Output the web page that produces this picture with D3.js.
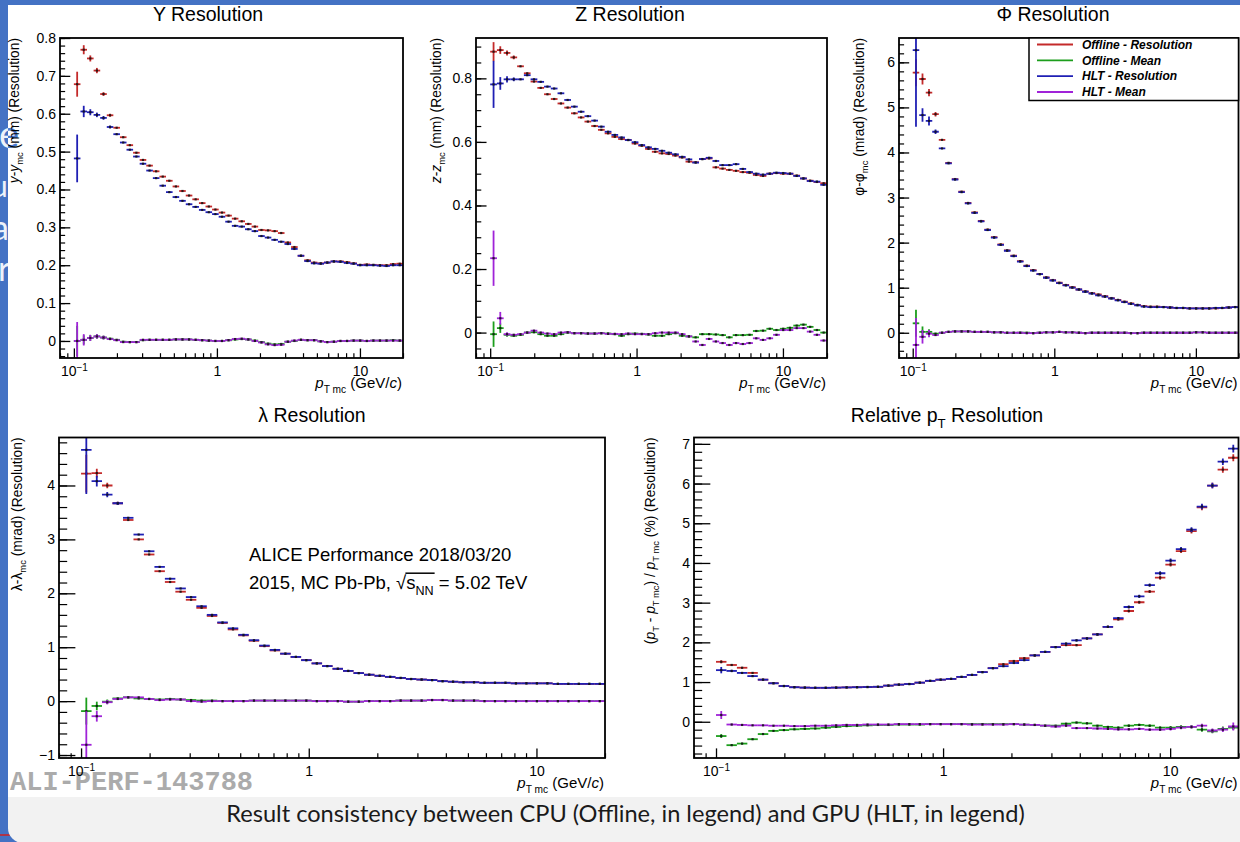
<!DOCTYPE html>
<html><head><meta charset="utf-8">
<script src="https://cdn.jsdelivr.net/npm/d3@7"></script>
<style>
html,body{margin:0;padding:0;background:#4472c4;overflow:hidden;}
svg{display:block;}
text{white-space:pre;}
</style></head><body>
<svg id="c" width="1240" height="842"></svg>
<script>
// ---------------- DATA ----------------
const ptBinEdges = [0.1,0.1112,0.1236,0.1374,0.1528,0.1699,0.1888,0.2100,0.2334,0.2595,0.2885,0.3208,0.3566,0.3965,0.4408,0.4901,0.5449,0.6058,0.6735,0.7488,0.8325,0.9255,1.0290,1.1440,1.2719,1.4141,1.5722,1.7480,1.9434,2.1606,2.4022,2.6708,2.9693,3.3013,3.6704,4.0807,4.5369,5.0441,5.6080,6.2350,6.9320,7.7070,8.5686,9.5266,10.592,11.776,13.092,14.556,16.183,17.993,20.0];
const seriesNames = ["Offline - Resolution","Offline - Mean","HLT - Resolution","HLT - Mean"];

// Y resolution (mm)
const yResOffline = [0.678,0.769,0.746,0.714,0.652,0.596,0.563,0.538,0.517,0.497, 0.478,0.463,0.448,0.434,0.423,0.408,0.396,0.384,0.374,0.364, 0.355,0.347,0.339,0.331,0.323,0.316,0.309,0.302,0.293,0.292, 0.290,0.285,0.260,0.248,0.225,0.213,0.207,0.205,0.207,0.210, 0.210,0.208,0.205,0.201,0.202,0.201,0.200,0.200,0.203,0.204];
const yResHLT = [0.482,0.606,0.604,0.597,0.589,0.565,0.546,0.524,0.505,0.487, 0.468,0.450,0.430,0.410,0.393,0.380,0.370,0.361,0.354,0.346, 0.340,0.335,0.328,0.315,0.304,0.302,0.295,0.290,0.277,0.273, 0.267,0.262,0.256,0.243,0.225,0.211,0.205,0.204,0.207,0.210, 0.209,0.206,0.204,0.200,0.200,0.200,0.199,0.198,0.200,0.200];
const yMeanOffline = [0.000,0.003,0.008,0.012,0.009,0.006,0.003,-0.002,-0.003,-0.003, 0.002,0.003,0.003,0.003,0.003,0.004,0.004,0.004,0.003,0.002, 0.001,0.000,0.000,0.002,0.004,0.005,0.004,0.001,-0.003,-0.007, -0.009,-0.008,-0.002,0.000,0.003,0.002,0.002,-0.001,-0.003,-0.002, 0.000,0.000,0.001,0.001,0.000,0.001,0.001,0.001,0.002,0.001];
const yMeanHLT = [0.000,0.003,0.008,0.012,0.009,0.005,0.002,-0.003,-0.003,-0.003, 0.003,0.003,0.003,0.003,0.003,0.004,0.004,0.004,0.003,0.002, 0.001,0.000,0.000,0.002,0.005,0.006,0.004,0.000,-0.004,-0.009, -0.011,-0.010,-0.002,0.001,0.003,0.002,0.002,-0.001,-0.003,-0.002, 0.000,0.000,0.001,0.001,0.000,0.001,0.001,0.001,0.001,0.001];
const yResOfflineErr = [0.033,0.012,0.008,0.007,0.005,0.004];
const yResHLTErr = [0.063,0.015,0.008,0.006,0.005,0.004];
const yMeanOfflineErr = [0.040,0.012,0.008,0.006,0.005];
const yMeanHLTErr = [0.050,0.015,0.008,0.006,0.005];

// Z resolution (mm)
const zResOffline = [0.884,0.889,0.880,0.866,0.838,0.816,0.790,0.770,0.750,0.735, 0.721,0.708,0.690,0.677,0.664,0.650,0.638,0.627,0.616,0.609, 0.606,0.595,0.588,0.578,0.569,0.564,0.562,0.557,0.551,0.538, 0.536,0.546,0.548,0.520,0.516,0.512,0.509,0.505,0.503,0.496, 0.493,0.500,0.502,0.500,0.500,0.494,0.485,0.478,0.474,0.470];
const zResHLT = [0.781,0.784,0.797,0.797,0.797,0.810,0.797,0.789,0.774,0.768, 0.753,0.732,0.711,0.695,0.681,0.667,0.648,0.632,0.622,0.614, 0.606,0.599,0.590,0.583,0.578,0.572,0.566,0.561,0.553,0.545, 0.535,0.546,0.550,0.540,0.527,0.527,0.530,0.515,0.505,0.500, 0.497,0.500,0.503,0.502,0.500,0.493,0.485,0.477,0.475,0.465];
const zMeanOffline = [-0.005,0.014,-0.007,-0.010,-0.007,0.000,0.001,-0.005,-0.010,-0.010, -0.005,0.000,-0.002,-0.002,-0.003,-0.003,-0.002,-0.003,-0.005,-0.010, -0.005,-0.003,-0.004,-0.006,-0.010,-0.010,-0.005,-0.002,-0.010,-0.012, -0.015,-0.005,-0.005,-0.006,-0.008,-0.015,-0.008,-0.008,-0.007,0.005, 0.006,0.012,0.008,0.012,0.015,0.022,0.025,0.018,0.008,0.000];
const zMeanHLT = [0.234,0.045,-0.005,-0.007,-0.005,0.000,0.006,0.000,-0.003,-0.005, 0.000,0.001,-0.002,-0.002,-0.003,-0.003,-0.002,-0.004,-0.004,-0.005, -0.003,-0.005,-0.005,-0.005,-0.002,0.000,0.000,0.000,-0.005,-0.012, -0.028,-0.039,-0.020,-0.028,-0.033,-0.039,-0.033,-0.036,-0.033,-0.018, -0.023,-0.018,-0.007,0.008,0.008,0.014,0.014,0.003,-0.007,-0.025];
const zResOfflineErr = [0.030,0.012,0.008,0.006];
const zResHLTErr = [0.074,0.020,0.010,0.006];
const zMeanOfflineErr = [0.040,0.015,0.006];
const zMeanHLTErr = [0.087,0.020,0.006];

// Phi resolution (mrad)
const phiResOffline = [5.77,5.63,5.33,4.85,4.28,3.77,3.41,3.13,2.88,2.67, 2.48,2.29,2.12,1.96,1.83,1.71,1.59,1.49,1.39,1.30, 1.23,1.17,1.11,1.06,1.01,0.96,0.92,0.88,0.85,0.81, 0.77,0.73,0.69,0.65,0.62,0.59,0.58,0.58,0.57,0.56, 0.55,0.55,0.54,0.54,0.54,0.54,0.54,0.55,0.56,0.57];
const phiResHLT = [6.27,4.83,4.70,4.46,4.09,3.76,3.40,3.12,2.87,2.66, 2.47,2.28,2.11,1.95,1.82,1.70,1.58,1.48,1.38,1.30, 1.22,1.16,1.10,1.05,1.00,0.96,0.91,0.87,0.83,0.80, 0.76,0.72,0.68,0.64,0.61,0.58,0.57,0.57,0.57,0.56, 0.55,0.55,0.54,0.54,0.54,0.54,0.55,0.55,0.56,0.57];
const phiMeanOffline = [0.21,0.02,0.02,-0.02,0.00,0.02,0.03,0.03,0.03,0.02, 0.02,0.02,0.01,0.01,0.00,0.00,0.00,0.00,-0.01,0.00, 0.01,0.01,0.02,0.01,0.01,0.00,-0.01,0.00,0.00,0.00, 0.00,0.00,0.00,-0.01,-0.01,0.00,0.00,0.00,0.00,0.00, 0.00,0.00,0.00,0.01,0.01,0.00,0.00,0.00,0.00,0.00];
const phiMeanHLT = [-0.27,-0.09,-0.02,-0.05,0.00,0.02,0.03,0.03,0.03,0.02, 0.02,0.02,0.01,0.01,0.00,0.00,0.00,-0.01,-0.01,0.00, 0.01,0.01,0.02,0.01,0.01,0.00,-0.01,0.00,0.00,0.00, 0.00,0.00,0.00,-0.01,-0.01,0.00,0.00,0.00,0.00,0.00, 0.00,0.00,0.00,0.01,0.01,0.00,0.00,0.00,0.00,0.00];
const phiResOfflineErr = [0.30,0.12,0.08,0.05];
const phiResHLTErr = [1.70,0.15,0.10,0.05];
const phiMeanOfflineErr = [0.30,0.12,0.06];
const phiMeanHLTErr = [0.60,0.15,0.08];

// Lambda resolution (mrad)
const lamResOffline = [4.22,4.23,4.00,3.67,3.36,3.00,2.72,2.41,2.21,2.03, 1.88,1.73,1.58,1.45,1.33,1.22,1.12,1.02,0.94,0.88, 0.82,0.76,0.70,0.65,0.60,0.56,0.52,0.49,0.47,0.45, 0.43,0.41,0.40,0.39,0.37,0.36,0.35,0.35,0.34,0.34, 0.34,0.33,0.33,0.33,0.33,0.32,0.32,0.32,0.32,0.32];
const lamResHLT = [4.66,4.08,3.83,3.67,3.40,3.09,2.78,2.49,2.27,2.09, 1.93,1.76,1.60,1.46,1.35,1.23,1.13,1.03,0.95,0.88, 0.82,0.76,0.70,0.65,0.60,0.56,0.52,0.49,0.47,0.45, 0.43,0.41,0.40,0.39,0.37,0.36,0.35,0.35,0.34,0.34, 0.34,0.33,0.33,0.33,0.33,0.32,0.32,0.32,0.32,0.32];
const lamMeanOffline = [-0.185,-0.09,-0.01,0.05,0.07,0.05,0.04,0.03,0.04,0.03, 0.02,0.01,0.01,0.00,0.00,0.00,0.01,0.01,0.01,0.01, 0.01,0.01,0.00,0.00,0.00,-0.01,-0.01,0.00,0.00,0.00, 0.01,0.01,0.01,0.02,0.02,0.01,0.01,0.01,0.00,0.00, 0.00,0.00,0.00,0.00,0.00,0.00,0.00,0.00,0.00,0.00];
const lamMeanHLT = [-0.81,-0.28,-0.02,0.04,0.07,0.07,0.04,0.02,0.03,0.03, 0.00,-0.01,0.00,0.00,0.00,0.00,0.01,0.01,0.01,0.01, 0.01,0.01,0.00,0.00,0.00,-0.01,-0.01,0.00,0.00,0.00, 0.01,0.01,0.01,0.02,0.02,0.01,0.01,0.01,0.00,0.00, 0.00,0.00,0.00,0.00,0.00,0.00,0.00,0.00,0.00,0.00];
const lamResOfflineErr = [0.35,0.08,0.05,0.03];
const lamResHLTErr = [0.82,0.10,0.05,0.03];
const lamMeanOfflineErr = [0.25,0.08,0.04];
const lamMeanHLTErr = [0.62,0.10,0.04];

// Relative pT resolution (%)
const ptResOffline = [1.51,1.43,1.36,1.23,1.06,0.97,0.90,0.87,0.86,0.855, 0.855,0.86,0.865,0.87,0.875,0.88,0.91,0.935,0.95,0.985, 1.03,1.06,1.08,1.13,1.18,1.25,1.35,1.45,1.53,1.60, 1.67,1.76,1.88,1.93,1.93,2.10,2.20,2.39,2.58,2.79, 3.01,3.28,3.63,3.96,4.30,4.80,5.40,5.95,6.35,6.65];
const ptResHLT = [1.30,1.28,1.23,1.15,1.06,0.97,0.90,0.87,0.86,0.855, 0.855,0.86,0.865,0.87,0.875,0.88,0.91,0.935,0.95,0.985, 1.03,1.06,1.08,1.13,1.18,1.25,1.35,1.40,1.48,1.55, 1.67,1.76,1.88,1.97,2.05,2.10,2.20,2.39,2.61,2.89, 3.16,3.44,3.74,4.06,4.35,4.84,5.42,5.95,6.55,6.88];
const ptMeanOffline = [-0.36,-0.59,-0.55,-0.44,-0.31,-0.23,-0.21,-0.19,-0.18,-0.17, -0.15,-0.13,-0.11,-0.10,-0.09,-0.08,-0.08,-0.07,-0.07,-0.07, -0.06,-0.06,-0.06,-0.06,-0.06,-0.06,-0.06,-0.06,-0.06,-0.07, -0.08,-0.10,-0.10,-0.05,-0.02,-0.04,-0.10,-0.13,-0.15,-0.10, -0.08,-0.10,-0.15,-0.15,-0.13,-0.13,-0.20,-0.24,-0.18,-0.15];
const ptMeanHLT = [0.17,-0.07,-0.08,-0.09,-0.09,-0.10,-0.10,-0.11,-0.11,-0.10, -0.10,-0.09,-0.08,-0.08,-0.07,-0.07,-0.07,-0.06,-0.06,-0.06, -0.06,-0.06,-0.06,-0.06,-0.07,-0.07,-0.07,-0.07,-0.06,-0.07, -0.08,-0.10,-0.12,-0.10,-0.16,-0.16,-0.17,-0.18,-0.19,-0.19, -0.18,-0.20,-0.20,-0.18,-0.15,-0.13,-0.10,-0.22,-0.20,-0.12];
const ptResOfflineErr = [0.04,0.02,0.02,0.02,0.01,0.01,0.01,0.01,0.01,0.01, 0.01,0.01,0.01,0.01,0.01,0.01,0.01,0.01,0.01,0.01, 0.01,0.01,0.01,0.01,0.01,0.01,0.01,0.01,0.01,0.02, 0.02,0.02,0.02,0.02,0.03,0.03,0.03,0.03,0.03,0.04, 0.04,0.04,0.05,0.05,0.05,0.06,0.07,0.07,0.08,0.09];
const ptResHLTErr = [0.08,0.03,0.02,0.02,0.01,0.01,0.01,0.01,0.01,0.01, 0.01,0.01,0.01,0.01,0.01,0.01,0.01,0.01,0.01,0.01, 0.01,0.01,0.01,0.01,0.01,0.01,0.01,0.01,0.01,0.02, 0.02,0.02,0.02,0.02,0.03,0.03,0.03,0.03,0.03,0.04, 0.04,0.04,0.05,0.05,0.05,0.06,0.07,0.07,0.08,0.10];
const ptMeanOfflineErr = [0.05,0.02,0.02,0.01,0.01,0.01,0.01,0.01,0.01,0.01, 0.01,0.01,0.01,0.01,0.01,0.01,0.01,0.01,0.01,0.01, 0.01,0.01,0.01,0.01,0.01,0.01,0.01,0.01,0.01,0.01, 0.01,0.02,0.02,0.02,0.02,0.02,0.02,0.02,0.03,0.03, 0.03,0.03,0.03,0.04,0.04,0.04,0.05,0.05,0.06,0.06];
const ptMeanHLTErr = [0.10,0.02,0.02,0.01,0.01,0.01,0.01,0.01,0.01,0.01, 0.01,0.01,0.01,0.01,0.01,0.01,0.01,0.01,0.01,0.01, 0.01,0.01,0.01,0.01,0.01,0.01,0.01,0.01,0.01,0.01, 0.01,0.02,0.02,0.02,0.02,0.02,0.02,0.02,0.03,0.03, 0.03,0.03,0.03,0.04,0.04,0.04,0.05,0.05,0.06,0.10];

// ticks
const xDomain = [0.08, 20];
const xMajorTicks = [0.1, 1, 10];
const xMinorTicks = [0.08,0.09,0.2,0.3,0.4,0.5,0.6,0.7,0.8,0.9,2,3,4,5,6,7,8,9,20];
const yTicksY = [0,0.1,0.2,0.3,0.4,0.5,0.6,0.7,0.8];
const yTicksZ = [0,0.2,0.4,0.6,0.8];
const yTicksPhi = [0,1,2,3,4,5,6];
const yTicksLam = [-1,0,1,2,3,4];
const yTicksPt = [0,1,2,3,4,5,6,7];

// ---------------- STYLE / LAYOUT ----------------
const colors = ["#c42a2a","#1c9e1c","#1f1fb4","#a023d8"];
const SANS = "'Liberation Sans',Arial,Helvetica,sans-serif";
const LATO = "Lato,'Open Sans',sans-serif";
const MONO = "'Liberation Mono','Courier New',monospace";
const FONT_TICK = 14, FONT_TITLE = 19.5, FONT_AXT = 15, FONT_YT = 13.8;

const panels = [
  {id:"y", frame:{l:60,t:38,r:403,b:358}, yDomain:[-0.045,0.8], yTicks:yTicksY, minor:0.02,
   title:[["Y Resolution"]], titleX:208, titleY:21, yTitleX:19,
   yTitle:[["y","i"],["-"],["y","i"],["mc","sub"],[" (mm) (Resolution)"]],
   series:[yResOffline,yMeanOffline,yResHLT,yMeanHLT], errs:[yResOfflineErr,yMeanOfflineErr,yResHLTErr,yMeanHLTErr]},
  {id:"z", frame:{l:476,t:38,r:827,b:358}, yDomain:[-0.08,0.927], yTicks:yTicksZ, minor:0.05,
   title:[["Z Resolution"]], titleX:630, titleY:21, yTitleX:441,
   yTitle:[["z","i"],["-"],["z","i"],["mc","sub"],[" (mm) (Resolution)"]],
   series:[zResOffline,zMeanOffline,zResHLT,zMeanHLT], errs:[zResOfflineErr,zMeanOfflineErr,zResHLTErr,zMeanHLTErr]},
  {id:"phi", frame:{l:899,t:38,r:1238.5,b:358}, yDomain:[-0.56,6.54], yTicks:yTicksPhi, minor:0.2,
   title:[["\u03A6 Resolution"]], titleX:1053, titleY:21, yTitleX:864,
   yTitle:[["\u03C6"],["-"],["\u03C6"],["mc","sub"],[" (mrad) (Resolution)"]],
   series:[phiResOffline,phiMeanOffline,phiResHLT,phiMeanHLT], errs:[phiResOfflineErr,phiMeanOfflineErr,phiResHLTErr,phiMeanHLTErr], legend:true},
  {id:"lam", frame:{l:59,t:437.5,r:605,b:758}, yDomain:[-1.055,4.89], yTicks:yTicksLam, minor:0.2,
   title:[["\u03BB Resolution"]], titleX:312, titleY:422, yTitleX:22,
   yTitle:[["\u03BB"],["-"],["\u03BB"],["mc","sub"],[" (mrad) (Resolution)"]],
   series:[lamResOffline,lamMeanOffline,lamResHLT,lamMeanHLT], errs:[lamResOfflineErr,lamMeanOfflineErr,lamResHLTErr,lamMeanHLTErr], alice:true},
  {id:"pt", frame:{l:694,t:437.5,r:1238.5,b:758}, yDomain:[-0.913,7.16], yTicks:yTicksPt, minor:0.2,
   title:[["Relative p"],["T","sub"],[" Resolution"]], titleX:947, titleY:422, yTitleX:655,
   yTitle:[["("],["p","i"],["T","sub"],[" - "],["p","i"],["T mc","sub"],[") / "],["p","i"],["T mc","sub"],[" (%) (Resolution)"]],
   series:[ptResOffline,ptMeanOffline,ptResHLT,ptMeanHLT], errs:[ptResOfflineErr,ptMeanOfflineErr,ptResHLTErr,ptMeanHLTErr]}
];

// ---------------- HELPERS ----------------
function rich(sel, parts, fs) {
  let shift = 0;
  parts.forEach(([t, kind]) => {
    const want = kind === "sub" ? fs*0.32 : (kind === "sup" ? -fs*0.45 : 0);
    const ts = sel.append("tspan").text(t);
    if (want - shift !== 0) ts.attr("dy", want - shift);
    shift = want;
    if (kind === "i") ts.style("font-style","italic");
    if (kind === "sub" || kind === "sup") ts.style("font-size", (fs*0.68) + "px");
  });
  return sel;
}

function drawSeries(parent, x, y, vals, errs, color) {
  const g = parent.append("g");
  const bins = vals.map((v,i) => ({v, lo:ptBinEdges[i], hi:ptBinEdges[i+1], e:(errs && errs[i]) || 0}));
  g.selectAll("line.h").data(bins).join("line").attr("class","h")
    .attr("x1", d => x(d.lo)).attr("x2", d => x(d.hi))
    .attr("y1", d => y(d.v)).attr("y2", d => y(d.v))
    .attr("stroke", color).attr("stroke-width", 1.8);
  g.selectAll("line.v").data(bins.filter(d => d.e > 0)).join("line").attr("class","v")
    .attr("x1", d => x(Math.sqrt(d.lo*d.hi))).attr("x2", d => x(Math.sqrt(d.lo*d.hi)))
    .attr("y1", d => y(d.v - d.e)).attr("y2", d => y(d.v + d.e))
    .attr("stroke", color).attr("stroke-width", 1.8);
  g.selectAll("rect.m").data(bins).join("rect").attr("class","m")
    .attr("x", d => x(Math.sqrt(d.lo*d.hi)) - 1.1).attr("y", d => y(d.v) - 1.1)
    .attr("width", 2.2).attr("height", 2.2).attr("fill", "#111").attr("fill-opacity", 0.85);
}

function txt(parent, fam, size) {
  return parent.append("text").style("font-family", fam).style("font-size", size + "px");
}

// ---------------- DRAW ----------------
const svg = d3.select("#c");
const defs = svg.append("defs");
svg.append("rect").attr("width",1240).attr("height",842).attr("fill","#4472c4");

// slide text fragments peeking out on the left
const frag = svg.append("g").attr("fill","#eef2fa");
txt(frag, LATO, 38).attr("x",-1).attr("y",148).text("e");
txt(frag, LATO, 30).attr("x",-9).attr("y",197).text("u");
txt(frag, LATO, 34).attr("x",-8).attr("y",240).text("a");
txt(frag, LATO, 34).attr("x",-2).attr("y",281).text("r");
svg.append("line").attr("x1",0).attr("x2",10).attr("y1",835).attr("y2",835).attr("stroke","#d02020").attr("stroke-width",1.5);

// caption band and white figure area
svg.append("rect").attr("x",8).attr("y",700).attr("width",1250).attr("height",143).attr("rx",15).attr("fill","#f2f2f2");
svg.append("rect").attr("x",8).attr("y",5).attr("width",1232).attr("height",792).attr("fill","#ffffff");
defs.append("clipPath").attr("id","clipWhite").append("rect").attr("x",8).attr("y",5).attr("width",100).attr("height",300);
txt(svg, LATO, 38).attr("clip-path","url(#clipWhite)").attr("x",-1).attr("y",148)
  .attr("fill","#4a7bd0").text("e");

// watermark
txt(svg, MONO, 27).style("font-weight","bold").attr("x",10).attr("y",790)
  .attr("fill","#ababab").text("ALI-PERF-143788");

panels.forEach(p => {
  const f = p.frame;
  const x = d3.scaleLog().domain(xDomain).range([f.l, f.r]);
  const y = d3.scaleLinear().domain(p.yDomain).range([f.b, f.t]);
  const g = svg.append("g");
  const clipId = "clip-" + p.id;
  defs.append("clipPath").attr("id", clipId).append("rect")
    .attr("x", f.l).attr("y", f.t).attr("width", f.r - f.l).attr("height", f.b - f.t);

  // data
  const dg = g.append("g").attr("clip-path", `url(#${clipId})`);
  p.series.forEach((vals, k) => drawSeries(dg, x, y, vals, p.errs[k], colors[k]));

  const tickLenY = 0.03*(f.r - f.l), tickLenX = 0.03*(f.b - f.t);

  // y axis
  const step = p.minor;
  const minorY = d3.range(Math.ceil(p.yDomain[0]/step - 1e-9), Math.floor(p.yDomain[1]/step + 1e-9) + 1).map(k => +(k*step).toFixed(6));
  g.append("g").attr("transform", `translate(${f.l},0)`)
    .call(d3.axisLeft(y).tickValues(minorY).tickSize(-tickLenY/2).tickFormat(""))
    .call(a => { a.select(".domain").remove(); a.selectAll("line").attr("stroke","#000").attr("stroke-width",1.2); });
  const ay = g.append("g").attr("transform", `translate(${f.l},0)`)
    .call(d3.axisLeft(y).tickValues(p.yTicks).tickSize(-tickLenY).tickPadding(4).tickFormat(d3.format("~g")));
  ay.select(".domain").remove();
  ay.selectAll("line").attr("stroke","#000").attr("stroke-width",1.3);
  ay.selectAll("text").style("font-size", FONT_TICK + "px").style("font-family", SANS).attr("fill","#000");

  // x axis
  g.append("g").attr("transform", `translate(0,${f.b})`)
    .call(d3.axisBottom(x).tickValues(xMinorTicks).tickSize(-tickLenX/2).tickFormat(""))
    .call(a => { a.select(".domain").remove(); a.selectAll("line").attr("stroke","#000").attr("stroke-width",1.2); });
  const axx = g.append("g").attr("transform", `translate(0,${f.b})`)
    .call(d3.axisBottom(x).tickValues(xMajorTicks).tickSize(-tickLenX).tickPadding(8).tickFormat(d3.format("~g")));
  axx.select(".domain").remove();
  axx.selectAll("line").attr("stroke","#000").attr("stroke-width",1.3);
  axx.selectAll("text").style("font-size", FONT_TICK + "px").style("font-family", SANS).attr("fill","#000")
    .each(function(d) {
      if (d === 0.1) {
        const t = d3.select(this).text(null);
        t.append("tspan").text("10");
        t.append("tspan").attr("dy","-0.45em").style("font-size","10px").text("\u22121");
      }
    });

  // frame
  g.append("rect").attr("x", f.l).attr("y", f.t).attr("width", f.r - f.l).attr("height", f.b - f.t)
    .attr("fill","none").attr("stroke","#000").attr("stroke-width",1.8);

  // titles
  rich(txt(g, SANS, FONT_TITLE).attr("x", p.titleX).attr("y", p.titleY).attr("text-anchor","middle")
    .attr("fill","#000"), p.title, FONT_TITLE);
  rich(txt(g, SANS, FONT_AXT).attr("x", f.r - 1).attr("y", f.b + 30).attr("text-anchor","end")
    .attr("fill","#000"), [["p","i"],["T mc","sub"],[" (GeV/"],["c","i"],[")"]], FONT_AXT);
  rich(txt(g, SANS, FONT_YT).attr("transform", `translate(${p.yTitleX},${f.t}) rotate(-90)`).attr("text-anchor","end")
    .attr("fill","#000"), p.yTitle, FONT_YT);

  // legend
  if (p.legend) {
    const lg = g.append("g");
    lg.append("rect").attr("x",1029).attr("y",f.t).attr("width",f.r-1029).attr("height",62.5)
      .attr("fill","#fff").attr("stroke","#000").attr("stroke-width",1.5);
    const rowY = d3.scalePoint().domain(seriesNames).range([44.5, 92]);
    seriesNames.forEach((n, k) => {
      lg.append("line").attr("x1",1037).attr("x2",1073).attr("y1",rowY(n)).attr("y2",rowY(n))
        .attr("stroke",colors[k]).attr("stroke-width",1.8);
      txt(lg, SANS, 12).attr("x",1082).attr("y",rowY(n)+4.3)
        .style("font-weight","bold").style("font-style","italic").attr("fill","#000").text(n);
    });
  }

  // ALICE label
  if (p.alice) {
    txt(g, SANS, 18.5).attr("x",249).attr("y",561).attr("fill","#000")
      .text("ALICE Performance 2018/03/20");
    const t2 = txt(g, SANS, 18.5).attr("x",249).attr("y",589).attr("fill","#000");
    rich(t2, [["2015, MC Pb-Pb, \u221A"],["s"],["NN","sub"],[" = 5.02 TeV"]], 18.5);
    const node = t2.node();
    const full = node.textContent;
    const iSq = full.indexOf("\u221A"), iN = full.indexOf("NN") + 1;
    const eSq = node.getExtentOfChar(iSq), eN = node.getExtentOfChar(iN);
    g.append("line").attr("x1", eSq.x + eSq.width - 0.8).attr("x2", eN.x + eN.width + 1)
      .attr("y1", eSq.y + 1.2).attr("y2", eSq.y + 1.2).attr("stroke","#000").attr("stroke-width",1.5);
  }
});

// caption: sized so it spans the same width as in the slide (x 226 to 1025)
const cap = txt(svg, LATO, 20).attr("x",625.5).attr("y",822).attr("text-anchor","middle").attr("fill","#1a1a1a")
  .text("Result consistency between CPU (Offline, in legend) and GPU (HLT, in legend)");
const capW = cap.node().getComputedTextLength();
cap.style("font-size", (20 * 799 / capW).toFixed(2) + "px");
</script>
</body></html>
